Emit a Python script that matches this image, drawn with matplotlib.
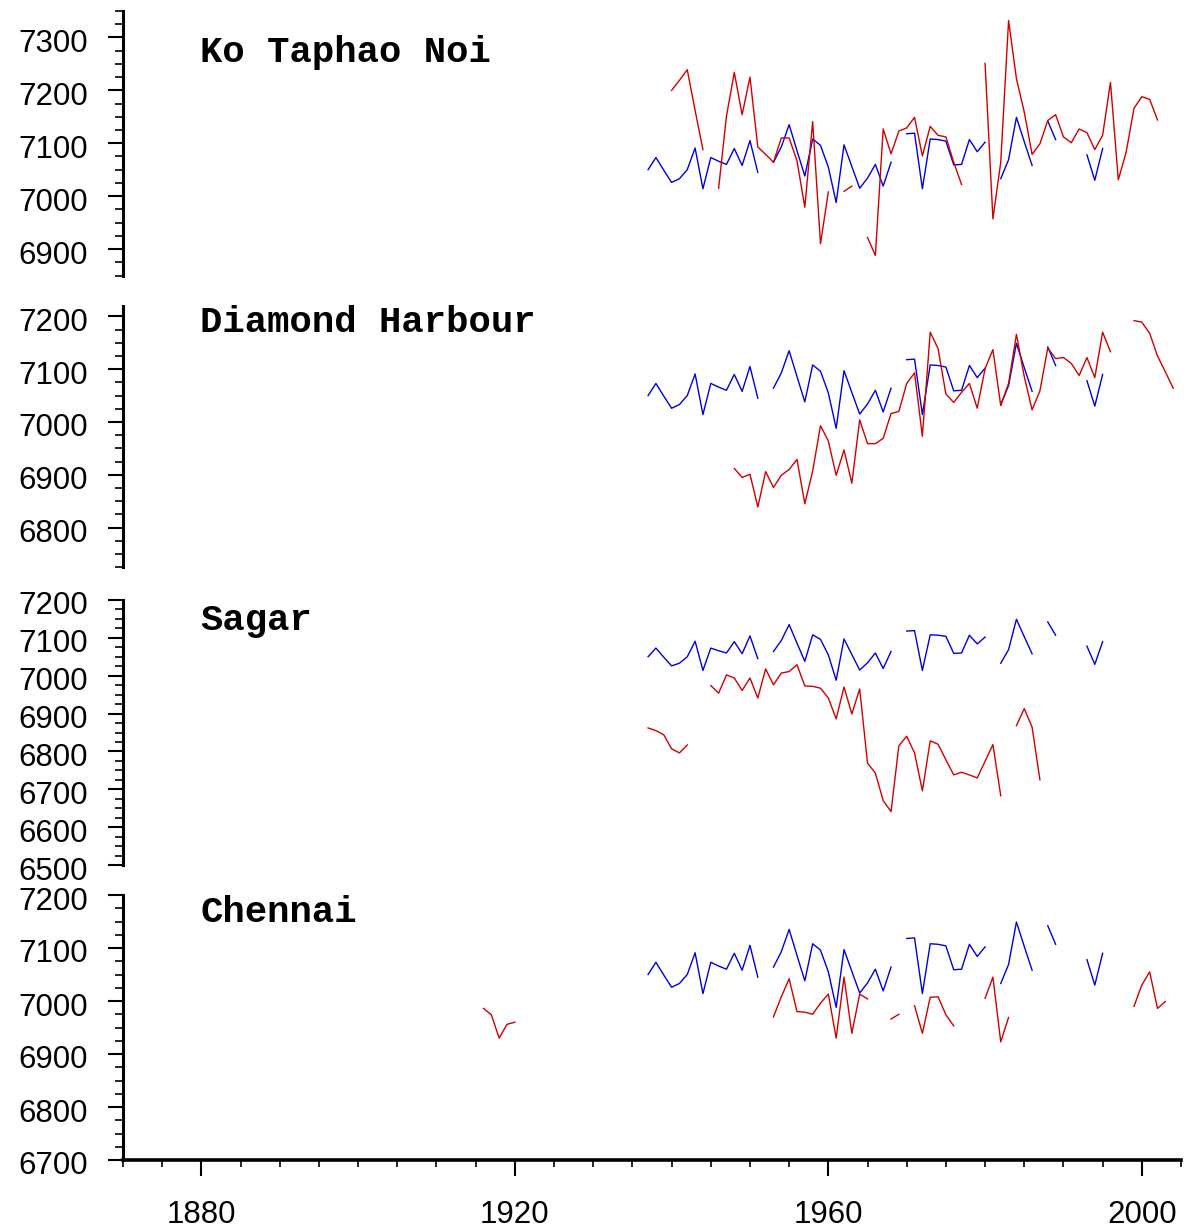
import numpy as np
import matplotlib
matplotlib.use("Agg")
import matplotlib.pyplot as plt
from matplotlib.ticker import MultipleLocator, FixedLocator
from matplotlib.transforms import ScaledTranslation

nan = np.nan

# reference series (blue), same in every panel, starts 1937
blue_start = 1937
blue = [7050, 7073, 7049, 7026, 7033, 7050, 7091, 7014, 7073, 7066,
        7060, 7090, 7058, 7105, 7045, nan, 7064, 7093, 7135, 7086,
        7038, 7108, 7096, 7055, 6988, 7097, 7056, 7015, 7034, 7060,
        7019, 7064, nan, 7118, 7119, 7014, 7108, 7107, 7104, 7059,
        7060, 7107, 7084, 7102, nan, 7033, 7069, 7149, 7103, 7058,
        nan, 7142, 7107, nan, nan, nan, 7078, 7030, 7090]

# station series (red)
ko_start = 1940
ko_taphao = [7200, 7219, 7239, 7162, 7088, nan, 7015, 7151, 7234, 7154,
             7225, 7093, 7079, 7064, 7110, 7110, 7067, 6979, 7141, 6910,
             7008, nan, 7009, 7019, nan, 6922, 6888, 7127, 7080, 7123,
             7129, 7149, 7076, 7132, 7115, 7112, 7064, 7022, nan, nan,
             7251, 6957, 7064, 7332, 7222, 7159, 7079, 7099, 7143, 7154,
             7112, 7101, 7127, 7120, 7088, 7115, 7215, 7031, 7083, 7166,
             7188, 7183, 7144]

dh_start = 1948
diamond = [6912, 6895, 6901, 6839, 6906, 6876, 6899, 6910, 6929, 6845,
           6907, 6993, 6964, 6899, 6947, 6884, 7004, 6959, 6959, 6969,
           7016, 7020, 7073, 7093, 6973, 7170, 7139, 7053, 7037, 7056,
           7073, 7026, 7101, 7137, 7031, 7073, 7166, 7086, 7023, 7059,
           7140, 7120, 7122, 7111, 7088, 7122, 7084, 7170, 7133, nan,
           nan, 7192, 7189, 7168, 7125, 7095, 7064]

sagar_start = 1937
sagar = [6862, 6855, 6844, 6807, 6796, 6817, nan, nan, 6974, 6954,
         7002, 6994, 6961, 6994, 6941, 7018, 6976, 7007, 7011, 7029,
         6973, 6972, 6967, 6941, 6886, 6970, 6899, 6965, 6769, 6743,
         6670, 6641, 6815, 6840, 6796, 6696, 6828, 6819, 6778, 6738,
         6745, 6738, 6730, 6774, 6818, 6683, nan, 6868, 6913, 6864,
         6725]

ch_start = 1916
chennai = ([6986, 6974, 6930, 6956, 6960] + [nan] * 32 +
           [6970, 7008, 7042, 6980, 6979, 6975, 6996, 7013, 6930, 7045,
            6939, 7013, 7004, nan, nan, 6966, 6975, nan, 6991, 6939,
            7007, 7008, 6974, 6953, nan, nan, nan, 7005, 7045, 6923,
            6969] + [nan] * 15 + [6990, 7030, 7055, 6986, 6999])

names = ["Ko Taphao Noi", "Diamond Harbour", "Sagar", "Chennai"]
stations = [(ko_start, ko_taphao), (dh_start, diamond),
            (sagar_start, sagar), (ch_start, chennai)]
ylims = [(6850, 7350), (6725, 7220), (6500, 7200), (6700, 7200)]
yticks = [[6900, 7000, 7100, 7200, 7300],
          [6800, 6900, 7000, 7100, 7200],
          [6500, 6600, 6700, 6800, 6900, 7000, 7100, 7200],
          [6700, 6800, 6900, 7000, 7100, 7200]]

# axes boxes in pixels (top, bottom) of the 1186x1231 picture
W, H = 1186, 1231
boxes = [(11, 275.5), (305.8, 567.2), (600, 865), (895, 1160)]
title_y = [52, 322, 620, 912]
left, right = 123, 1181

blue_color = "#0000dd"
red_color = "#d00000"


def series(start, values):
    x = np.arange(start, start + len(values))
    return x, np.array(values, dtype=float)


fig = plt.figure(figsize=(W / 100, H / 100), dpi=100)
bx, by = series(blue_start, blue)
shift_down = ScaledTranslation(0, -0.03, fig.dpi_scale_trans)

for i in range(4):
    top, bottom = boxes[i]
    ax = fig.add_axes([left / W, 1 - bottom / H, (right - left) / W, (bottom - top) / H])
    rx, ry = series(*stations[i])
    ax.plot(bx, by, color=blue_color, lw=1.0)
    ax.plot(rx, ry, color=red_color, lw=1.0)
    ax.set_xlim(1870, 2005)
    ax.set_ylim(*ylims[i])

    for s in ["top", "right"]:
        ax.spines[s].set_visible(False)
    ax.spines["left"].set_linewidth(2.2)

    ax.yaxis.set_major_locator(FixedLocator(yticks[i]))
    ax.yaxis.set_minor_locator(MultipleLocator(25))
    ax.tick_params(axis="y", which="major", direction="out", length=11, width=1.5,
                   pad=14, labelsize=22.5)
    ax.tick_params(axis="y", which="minor", direction="out", length=5.5, width=1.2)
    for tick in ax.yaxis.get_major_ticks():
        tick.label1.set_fontfamily("Liberation Sans")
        tick.label1.set_transform(tick.label1.get_transform() + shift_down)

    if i < 3:
        ax.spines["bottom"].set_visible(False)
        ax.set_xticks([])
        ax.xaxis.set_minor_locator(FixedLocator([]))
    else:
        ax.spines["bottom"].set_linewidth(2.6)
        ax.xaxis.set_major_locator(FixedLocator([1880, 1920, 1960, 2000]))
        ax.xaxis.set_minor_locator(MultipleLocator(5))
        ax.tick_params(axis="x", which="major", direction="out", length=11.5, width=1.5,
                       pad=17, labelsize=22.5)
        ax.tick_params(axis="x", which="minor", direction="out", length=5, width=1.2)
        for lab in ax.get_xticklabels():
            lab.set_fontfamily("Liberation Sans")

    fig.text(200 / W, 1 - title_y[i] / H, names[i], fontsize=26.8, fontweight="bold",
             family="Liberation Mono", ha="left", va="center")

fig.savefig("out.png", dpi=100)
